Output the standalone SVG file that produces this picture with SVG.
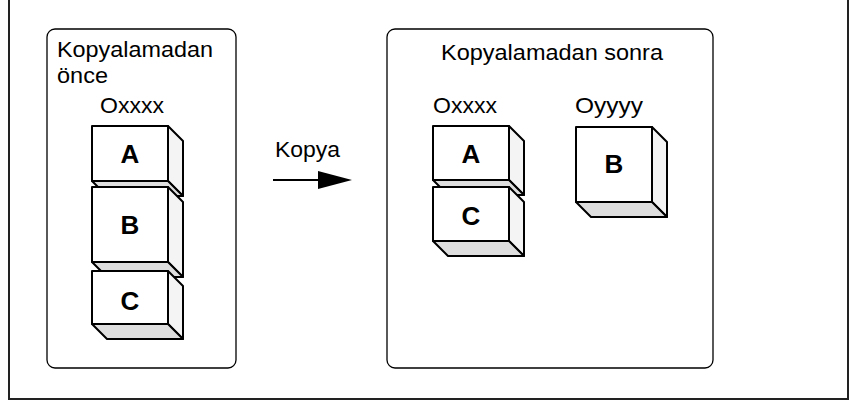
<svg xmlns="http://www.w3.org/2000/svg" width="850" height="401" viewBox="0 0 850 401">
<style>
.t{font-family:"Liberation Sans",Arial,sans-serif;font-size:22px;fill:#000}
.l{font-family:"Liberation Sans",Arial,sans-serif;font-size:26px;font-weight:bold;fill:#000;text-anchor:middle}
.panel{fill:#fff;stroke:#000;stroke-width:1.3}
.front{fill:#fff;stroke:#000;stroke-width:2;stroke-linejoin:round}
.side{fill:#f4f4f4;stroke:#000;stroke-width:2;stroke-linejoin:round}
.bot{fill:#dedede;stroke:#000;stroke-width:2;stroke-linejoin:round}
</style>
<rect width="850" height="401" fill="#fff"/>
<path d="M9,0 V399 H848 V0" fill="none" stroke="#222" stroke-width="2"/>
<g id="panel-before">
<rect class="panel" x="47" y="29" width="189" height="339" rx="8"/>
<text class="t" x="57" y="57" textLength="156" lengthAdjust="spacingAndGlyphs">Kopyalamadan</text>
<text class="t" x="57" y="83" textLength="51" lengthAdjust="spacingAndGlyphs">önce</text>
<text class="t" x="100" y="113" textLength="64" lengthAdjust="spacingAndGlyphs">Oxxxx</text>
</g>
<g id="panel-after">
<rect class="panel" x="387" y="29" width="326" height="339" rx="8"/>
<text class="t" x="441" y="60" textLength="222" lengthAdjust="spacingAndGlyphs">Kopyalamadan sonra</text>
<text class="t" x="433" y="113" textLength="64" lengthAdjust="spacingAndGlyphs">Oxxxx</text>
<text class="t" x="575" y="113" textLength="68" lengthAdjust="spacingAndGlyphs">Oyyyy</text>
</g>
<g id="left-A">
<polygon class="side" points="168,126 183,141 183,196 168,181"/>
<polygon class="bot" points="92,181 168,181 183,196 107,196"/>
<rect class="front" x="92" y="126" width="76" height="55"/>
<text class="l" x="130" y="163">A</text>
</g>
<g id="left-B">
<polygon class="side" points="168,187 183,202 183,277 168,262"/>
<polygon class="bot" points="92,262 168,262 183,277 107,277"/>
<rect class="front" x="92" y="187" width="76" height="75"/>
<text class="l" x="130" y="234">B</text>
</g>
<g id="left-C">
<polygon class="side" points="168,271 183,286 183,339 168,324"/>
<polygon class="bot" points="92,324 168,324 183,339 107,339"/>
<rect class="front" x="92" y="271" width="76" height="53"/>
<text class="l" x="130" y="310">C</text>
</g>
<g id="right-A">
<polygon class="side" points="509,126 524,141 524,195 509,180"/>
<polygon class="bot" points="433,180 509,180 524,195 448,195"/>
<rect class="front" x="433" y="126" width="76" height="54"/>
<text class="l" x="471" y="163">A</text>
</g>
<g id="right-C">
<polygon class="side" points="509,187 524,202 524,256 509,241"/>
<polygon class="bot" points="433,241 509,241 524,256 448,256"/>
<rect class="front" x="433" y="187" width="76" height="54"/>
<text class="l" x="471" y="225">C</text>
</g>
<g id="right-B">
<polygon class="side" points="652,127 667,142 667,217 652,202"/>
<polygon class="bot" points="576,202 652,202 667,217 591,217"/>
<rect class="front" x="576" y="127" width="76" height="75"/>
<text class="l" x="614" y="173">B</text>
</g>
<g id="connectors">
<text class="t" x="275" y="157" textLength="65" lengthAdjust="spacingAndGlyphs">Kopya</text>
<line x1="273" y1="180" x2="322" y2="180" stroke="#000" stroke-width="2"/>
<polygon points="318,171 352,180 318,189" fill="#000"/>
</g>
</svg>
